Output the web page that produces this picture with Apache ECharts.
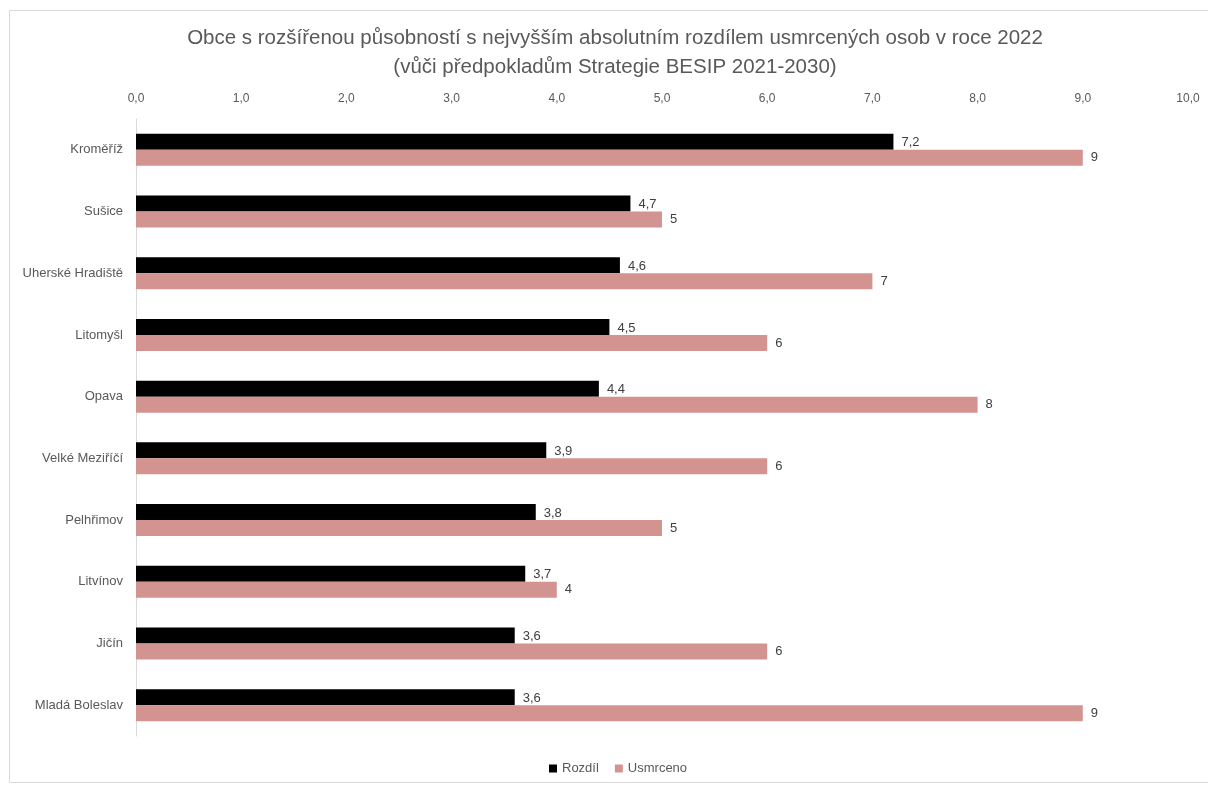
<!DOCTYPE html>
<html><head><meta charset="utf-8">
<script src="https://cdn.jsdelivr.net/npm/echarts@6/dist/echarts.min.js"></script>
<style>html,body{margin:0;padding:0;background:#fff}#c{width:1208px;height:785px}</style>
</head><body><div id="c"></div>
<script>
const categories = ["Kroměříž","Sušice","Uherské Hradiště","Litomyšl","Opava","Velké Meziříčí","Pelhřimov","Litvínov","Jičín","Mladá Boleslav"];
const rozdil = [7.2,4.7,4.6,4.5,4.4,3.9,3.8,3.7,3.6,3.6];
const usmrceno = [9,5,7,6,8,6,5,4,6,9];
const xTicks = [0,1,2,3,4,5,6,7,8,9,10];
const titleLines = ["Obce s rozšířenou působností s nejvyšším absolutním rozdílem usmrcených osob v roce 2022","(vůči předpokladům Strategie BESIP 2021-2030)"];

const FONT = "'Liberation Sans',sans-serif";
const chart = echarts.init(document.getElementById('c'), null, {renderer:'canvas'});
chart.setOption({
  animation:false,
  textStyle:{fontFamily:FONT},
  graphic:[
    {type:'rect',shape:{x:9.5,y:10.5,width:1210,height:772},style:{fill:'none',stroke:'#d9d9d9',lineWidth:1},silent:true,z:-1},
    {type:'text',x:615,y:24,style:{text:titleLines.join('\n'),align:'center',verticalAlign:'top',font:"20.5px 'Liberation Sans', sans-serif",lineHeight:29,fill:'#595959'},silent:true}
  ],
  legend:{bottom:5,left:544,itemWidth:8,itemHeight:8,itemGap:16,icon:'rect',textStyle:{fontFamily:FONT,fontSize:13,color:'#595959'},data:['Rozdíl','Usmrceno']},
  grid:{left:136,right:20,top:119,bottom:49,containLabel:false},
  xAxis:{type:'value',position:'top',min:0,max:10,interval:1,
    axisLine:{show:false},axisTick:{show:false},splitLine:{show:false},
    axisLabel:{color:'#595959',fontSize:12,margin:14,fontFamily:FONT,formatter:v=>v.toFixed(1).replace('.',',')}},
  yAxis:{type:'category',data:categories,inverse:true,
    axisLine:{show:true,lineStyle:{color:'#d9d9d9'}},axisTick:{show:false},
    axisLabel:{color:'#595959',fontSize:13,margin:13,fontFamily:FONT}},
  series:[
    {name:'Rozdíl',type:'bar',data:rozdil,barWidth:16,barGap:'0%',itemStyle:{color:'#000000'},
      label:{show:true,position:'right',distance:8,color:'#404040',fontSize:13,fontFamily:FONT,offset:[0,1],formatter:p=>String(p.value).replace('.',',')}},
    {name:'Usmrceno',type:'bar',data:usmrceno,barWidth:16,barGap:'0%',itemStyle:{color:'#d39391'},
      label:{show:true,position:'right',distance:8,color:'#404040',fontSize:13,fontFamily:FONT,formatter:p=>String(p.value)}}
  ]
});
</script></body></html>
